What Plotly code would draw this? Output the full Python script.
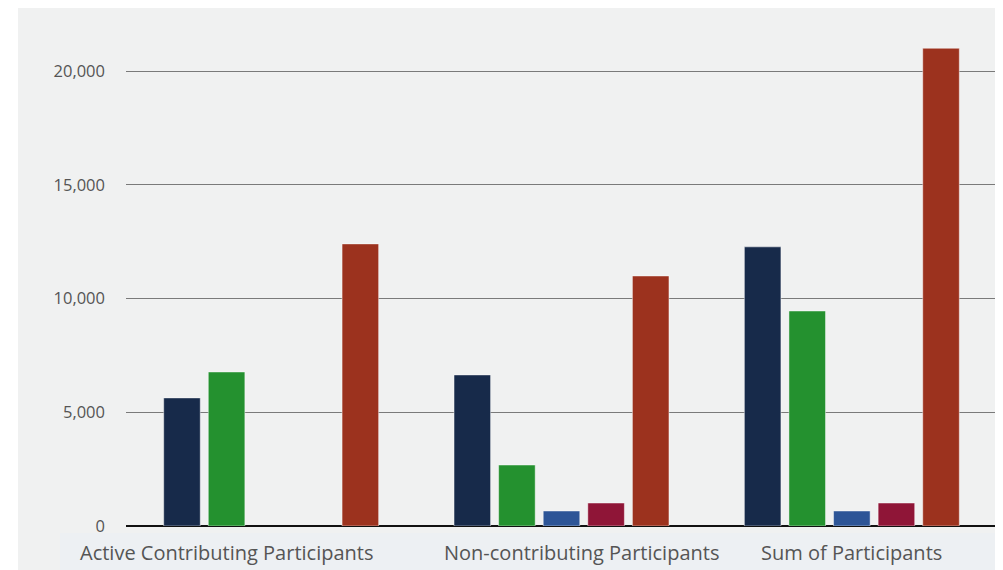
import plotly.graph_objects as go

# categories and series
categories = ["Active Contributing Participants", "Non-contributing Participants", "Sum of Participants"]
series_names = ["Series 1", "Series 2", "Series 3", "Series 4", "Series 5"]
series_1 = [5630, 6640, 12270]
series_2 = [6770, 2680, 9450]
series_3 = [None, 660, 660]
series_4 = [None, 1010, 1010]
series_5 = [12400, 10990, 21000]
colors = ["#172a4a", "#24912f", "#2d5597", "#8f1537", "#9c321e"]

y_ticks = [0, 5000, 10000, 15000, 20000]
label_shift = [-45, 20, 0]

# the page puts the figure 8px in from the top-left corner
OFF = 8
W, H = 1003 - OFF, 570 - OFF
L, R, T, B = 126 - OFF, 6, 2, 44
pw, ph = W - L - R, H - T - B


def px_x(x):
    return (x - OFF - L) / pw


def px_y(y):
    return (H - B - (y - OFF)) / ph


fig = go.Figure()
for name, vals, col in zip(series_names,
                           [series_1, series_2, series_3, series_4, series_5],
                           colors):
    fig.add_trace(go.Bar(
        x=categories, y=vals, name=name,
        marker=dict(color=col, line=dict(color="rgba(255,255,255,0.45)", width=1)),
    ))

# grey panel and label band behind everything
fig.add_shape(type="rect", xref="paper", yref="paper", layer="below",
              x0=px_x(18), x1=px_x(1010), y0=px_y(580), y1=px_y(0),
              fillcolor="#f0f1f1", line=dict(width=0))
fig.add_shape(type="rect", xref="paper", yref="paper", layer="below",
              x0=px_x(60), x1=px_x(1010), y0=px_y(580), y1=px_y(533),
              fillcolor="#edf0f3", line=dict(width=0))

# category labels (shifted like the original)
for cat, dx in zip(categories, label_shift):
    fig.add_annotation(x=cat, y=0, xref="x", yref="paper", yanchor="top",
                       text=cat, showarrow=False, xshift=dx, yshift=-11,
                       font=dict(size=20, color="#555555"))

fig.update_layout(
    width=W, height=H,
    margin=dict(l=L, r=R, t=T, b=B),
    paper_bgcolor="white",
    plot_bgcolor="rgba(0,0,0,0)",
    barmode="group",
    bargap=0.232,
    bargroupgap=0.18,
    showlegend=False,
    font=dict(family="Open Sans, sans-serif", color="#555555"),
)
fig.update_xaxes(
    type="category", range=[-0.5, 2.5],
    showgrid=False, showline=False, zeroline=False,
    showticklabels=False, ticks="",
)
fig.update_yaxes(
    range=[0, 516 / 113.75 * 5000],
    tickvals=y_ticks, tickformat=",",
    tickfont=dict(size=16.5, color="#555555"),
    showgrid=True, gridcolor="#7a7a7a", gridwidth=1,
    zeroline=True, zerolinecolor="#111111", zerolinewidth=2,
    showline=False, ticks="", ticklabelstandoff=20,
)

fig.write_html("out.html")
